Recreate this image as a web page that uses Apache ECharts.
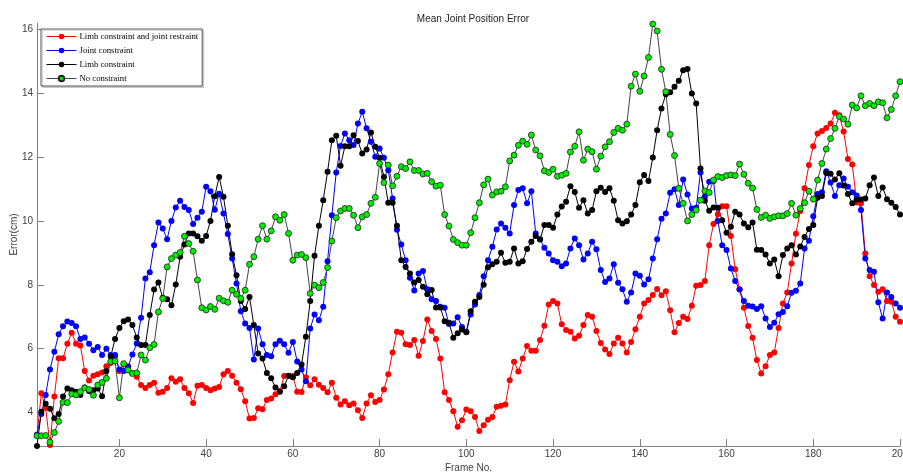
<!DOCTYPE html>
<html>
<head>
<meta charset="utf-8">
<script src="https://cdn.jsdelivr.net/npm/echarts@6/dist/echarts.min.js"></script>
<style>html,body{margin:0;padding:0;background:#fff;}#c{width:903px;height:473px;}</style>
</head>
<body>
<div id="c"></div>
<script>
const frames = Array.from({length: 200}, (_, i) => String(i + 1));
const yTicks = [4, 6, 8, 10, 12, 14, 16];
const seriesNames = ['Limb constraint and joint restraint', 'Joint constraint', 'Limb constraint', 'No constraint'];

const limbJoint = [
3.3,4.6,4.15,2.98,4.5,5.7,5.7,6.15,6.5,6.15,6.1,5.3,5.0,5.15,5.2,5.25,5.45,5.55,5.75,5.3,
5.5,5.45,5.24,5.12,4.86,4.77,4.86,4.93,4.62,4.65,4.77,5.07,4.96,5.04,4.77,4.6,4.3,4.84,4.86,4.77,
4.7,4.75,4.8,5.2,5.3,5.15,4.93,4.73,4.35,3.81,3.83,4.13,4.1,4.39,4.44,4.57,4.67,5.14,5.14,5.14,
4.65,4.64,5.1,4.85,5.04,4.87,4.77,4.63,4.93,4.46,4.25,4.35,4.23,4.28,4.07,3.83,4.28,4.54,4.33,4.39,
4.72,5.2,5.88,6.53,6.5,6.14,6.11,6.27,5.78,6.24,6.91,6.55,6.3,5.69,4.63,4.39,4.04,3.55,3.76,4.09,
4.04,3.86,3.42,3.6,3.77,3.86,4.18,4.21,4.25,5.01,5.59,5.28,5.69,6.08,5.93,5.93,6.27,6.72,7.38,7.49,
7.41,6.76,6.58,6.53,6.32,6.4,6.74,7.05,7.0,6.55,6.18,5.97,5.83,6.16,6.34,6.16,5.88,6.21,6.61,7.0,
7.41,7.52,7.68,7.87,7.67,7.8,7.2,6.51,6.8,7.0,6.93,7.34,7.97,7.99,8.12,9.24,9.9,10.21,10.46,10.46,
9.53,8.49,7.86,7.28,6.71,6.34,5.64,5.22,5.45,5.8,5.88,6.65,7.41,7.76,8.67,9.6,10.31,11.02,11.75,12.34,
12.74,12.82,12.91,13.05,13.39,13.31,12.8,11.94,11.77,10.58,10.55,8.98,8.27,7.99,7.78,7.86,7.49,7.47,7.0,6.84
];

const jointOnly = [
3.3,3.95,4.55,5.35,5.9,6.45,6.7,6.85,6.8,6.7,6.3,6.35,6.15,5.95,6.05,5.8,6.0,5.8,5.8,5.35,
5.3,5.43,5.82,6.16,6.97,8.2,8.39,9.24,9.95,9.76,9.43,10.0,10.42,10.63,10.44,10.34,9.9,10.1,10.29,11.07,
10.93,10.35,10.85,10.23,9.59,8.82,8.04,7.17,6.79,6.65,5.66,6.63,6.14,5.8,5.76,6.14,6.25,6.14,5.87,6.21,
5.6,5.35,4.98,6.63,7.07,6.89,7.31,8.74,10.18,11.52,12.35,12.74,12.53,12.38,13.05,13.42,12.9,12.48,12.01,12.27,
11.98,11.59,10.7,9.72,9.26,8.77,8.22,7.82,8.35,8.43,7.86,7.55,7.49,7.31,7.28,6.77,6.79,6.98,6.68,6.53,
7.07,7.38,7.68,8.27,8.77,9.19,9.73,9.92,9.79,9.61,10.5,10.97,11.02,10.55,10.93,9.61,9.43,9.16,8.98,8.77,
8.72,8.58,8.67,9.14,9.45,9.24,8.79,8.98,9.35,9.11,8.46,8.09,8.2,8.64,8.06,7.86,7.47,7.76,8.35,8.28,
8.01,8.17,8.82,9.43,10.07,10.23,10.88,10.99,10.5,11.3,10.83,10.39,10.41,11.52,10.76,11.23,11.25,10.0,9.24,9.09,
8.51,8.12,7.85,7.49,7.34,7.32,7.24,7.33,6.94,6.68,6.81,7.08,7.15,7.33,7.75,7.81,8.04,9.14,9.38,10.15,
10.84,10.9,11.56,11.2,10.78,11.12,11.33,11.07,10.9,10.8,10.34,8.82,8.46,8.41,7.45,6.94,7.76,7.62,7.41,7.28
];

const limbOnly = [
2.95,4.02,4.27,4.12,3.82,3.95,4.5,4.75,4.7,4.65,4.55,4.78,4.67,4.7,4.75,4.51,5.3,5.75,6.3,6.65,
6.86,6.91,6.74,6.35,6.11,6.11,7.05,7.85,8.07,7.59,7.55,7.36,8.01,8.88,9.26,9.61,9.61,9.52,9.38,9.53,
10.0,10.77,11.38,10.76,9.85,8.96,8.3,7.49,7.24,7.62,6.74,5.85,5.69,5.24,5.07,4.78,4.65,4.82,5.15,5.1,
5.24,5.5,6.37,7.49,8.91,9.85,10.65,11.54,12.53,12.67,11.73,12.34,12.34,12.68,12.5,12.11,12.24,12.77,12.32,11.98,
11.38,10.57,10.57,9.85,8.77,8.56,8.35,8.07,8.15,7.94,7.7,7.84,7.29,7.29,6.86,6.81,6.34,6.48,6.6,6.51,
7.17,7.47,7.62,8.0,8.55,8.64,8.72,9.0,8.69,8.72,9.14,8.67,8.74,9.12,9.35,9.53,9.42,9.87,9.87,9.79,
10.2,10.45,10.6,11.09,10.91,10.41,10.65,10.23,10.34,10.93,11.04,10.91,11.02,10.63,10.02,9.92,9.99,10.2,10.5,11.21,
11.44,11.25,11.99,12.84,13.52,13.97,14.03,14.2,14.39,14.72,14.76,13.99,13.68,11.64,10.63,10.32,10.42,10.41,10.02,9.63,
9.82,10.29,10.2,9.92,9.8,9.95,9.1,9.09,8.95,8.67,8.79,8.27,8.93,9.14,9.24,8.95,9.2,9.5,9.75,9.87,
10.73,10.78,11.5,11.48,11.3,11.49,11.11,10.84,10.55,10.67,10.67,10.7,11.12,11.36,10.78,11.05,10.68,10.57,10.44,10.2
];

const noConstraint = [
3.27,3.27,3.28,3.07,3.37,3.72,4.32,4.31,4.58,4.55,4.65,4.77,4.72,4.54,4.86,4.94,5.07,5.59,5.61,4.46,
5.53,5.33,5.22,5.24,5.8,5.64,6.03,6.13,7.15,7.57,8.56,8.82,8.93,9.01,9.52,9.29,9.05,8.15,7.28,7.21,
7.32,7.23,7.58,7.5,7.45,7.83,7.7,7.57,7.83,8.64,8.88,9.43,9.85,9.43,9.69,10.13,10.02,10.2,9.61,8.77,
8.93,8.95,8.85,7.73,7.99,7.91,8.07,8.54,9.37,10.1,10.31,10.39,10.39,10.18,9.79,10.13,10.2,10.55,10.74,11.8,
11.2,11.75,11.1,11.4,11.7,11.64,11.85,11.58,11.58,11.47,11.49,11.23,11.09,11.12,10.2,9.84,9.42,9.32,9.24,9.24,
9.63,10.1,10.57,11.13,11.31,10.81,10.91,10.93,11.07,11.88,12.06,12.37,12.5,12.4,12.69,12.22,12.04,11.57,11.52,11.62,
11.4,11.43,11.49,12.16,12.34,12.79,11.9,12.25,12.17,11.62,12.03,12.32,12.48,12.77,12.9,12.84,13.03,14.22,14.6,14.06,
14.54,15.12,16.17,15.95,14.75,14.05,12.71,12.05,11.02,10.55,10.0,10.2,10.34,10.65,10.94,10.89,11.28,11.39,11.36,11.42,
11.44,11.42,11.78,11.46,11.18,11.03,10.36,10.11,10.18,10.08,10.13,10.16,10.16,10.23,10.55,10.18,10.39,10.57,10.93,10.68,
11.28,11.8,12.25,12.58,12.9,13.27,13.19,13.03,13.63,13.54,13.92,13.61,13.68,13.61,13.73,13.7,13.23,13.49,13.92,14.36
];

const chart = echarts.init(document.getElementById('c'), null, {renderer: 'canvas'});
const labelFont = {fontFamily: '"Liberation Sans", Arial, sans-serif', fontSize: 10, color: '#404040'};
const every20 = function (index) { return (index + 1) % 20 === 0; };

function mk(name, data, lineColor, fill, border) {
  return {
    type: 'line', name: name, data: data,
    symbol: 'circle', symbolSize: 6, showAllSymbol: true,
    lineStyle: {width: 1, color: lineColor},
    itemStyle: {color: fill, borderColor: border || fill, borderWidth: border ? 0.8 : 0},
    emphasis: {disabled: true},
    animation: false
  };
}

chart.setOption({
  backgroundColor: '#ffffff',
  title: {
    text: 'Mean Joint Position Error', left: 468, top: 9, textAlign: 'center',
    textStyle: {fontFamily: '"Liberation Sans", Arial, sans-serif', fontSize: 10, fontWeight: 'normal', color: '#222'}
  },
  legend: {
    left: 41, top: 29, orient: 'vertical',
    itemWidth: 30, itemHeight: 7, itemGap: 5,
    padding: [3, 4, 3, 5],
    borderColor: '#555', borderWidth: 1, backgroundColor: '#fff',
    shadowColor: 'rgba(0,0,0,0.15)', shadowOffsetX: 1.5, shadowOffsetY: 1.5, shadowBlur: 0,
    lineStyle: {width: 1},
    textStyle: {fontFamily: '"Liberation Serif", "Times New Roman", serif', fontSize: 8.7, color: '#000', padding: [0, 0, 0, -2]},
    data: seriesNames
  },
  grid: {left: 37, right: 3, top: 23, bottom: 27, containLabel: false, outerBoundsMode: 'none'},
  xAxis: {
    type: 'category', data: frames, boundaryGap: false,
    name: 'Frame No.', nameLocation: 'middle', nameGap: 17, nameMoveOverlap: false,
    nameTextStyle: {fontFamily: '"Liberation Sans", Arial, sans-serif', fontSize: 10, color: '#404040'},
    axisLine: {lineStyle: {color: '#808080', width: 1}},
    axisTick: {inside: true, length: 7, interval: every20, lineStyle: {color: '#808080'}},
    axisLabel: Object.assign({interval: every20, margin: 3}, labelFont),
    splitLine: {show: false}
  },
  yAxis: {
    type: 'value', min: 2.95, max: 16.2,
    name: 'Error(cm)', nameLocation: 'middle', nameGap: 18, nameMoveOverlap: false,
    nameTextStyle: {fontFamily: '"Liberation Sans", Arial, sans-serif', fontSize: 10, color: '#404040'},
    axisLine: {show: true, lineStyle: {color: '#808080', width: 1}},
    axisTick: {show: true, inside: true, length: 7, customValues: yTicks, lineStyle: {color: '#808080'}},
    axisLabel: Object.assign({customValues: yTicks, margin: 4}, labelFont),
    splitLine: {show: false}
  },
  series: [
    mk(seriesNames[0], limbJoint, '#ff0000', '#ff0000'),
    mk(seriesNames[1], jointOnly, '#0000ff', '#0000ff'),
    mk(seriesNames[2], limbOnly, '#000000', '#000000'),
    mk(seriesNames[3], noConstraint, '#444444', '#00ee00', '#222222')
  ]
});
</script>
</body>
</html>
